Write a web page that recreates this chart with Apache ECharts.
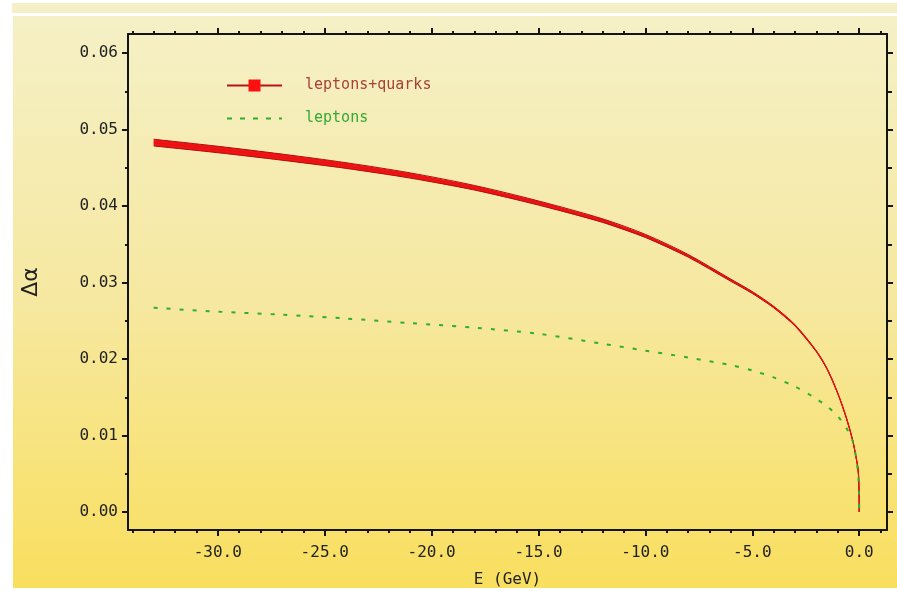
<!DOCTYPE html>
<html>
<head>
<meta charset="utf-8">
<script src="https://cdn.jsdelivr.net/npm/echarts@6/dist/echarts.min.js"></script>
<style>
html,body{margin:0;padding:0;background:#ffffff;}
#chart{width:897px;height:591px;}
</style>
</head>
<body>
<div id="chart"></div>
<script>
// Energies E (GeV), spacelike (negative)
const energies = [-33, -30, -27, -24, -21, -18, -15, -12, -10, -8, -6, -5, -4, -3, -2, -1.5, -1, -0.6, -0.3, -0.15, -0.05, -0.01, 0];
// Δα leptons + quarks (central value)
const leptonsQuarks = [0.0483, 0.0474, 0.0464, 0.0453, 0.0440, 0.0424, 0.0404, 0.0381, 0.0361, 0.0335, 0.0303, 0.0287, 0.0268, 0.0244, 0.0210, 0.0187, 0.0155, 0.0123, 0.0093, 0.0072, 0.0055, 0.0030, 0.0];
// half-width of the leptons + quarks band
const leptonsQuarksErr = [0.00044, 0.00042, 0.00040, 0.00037, 0.00034, 0.00030, 0.00027, 0.00023, 0.00020, 0.00017, 0.00014, 0.00012, 0.00010, 0.00008, 0.00006, 0.00005, 0.00004, 0.00003, 0.00002, 0.00002, 0.00001, 0.0, 0.0];
// Δα leptons only
const leptons = [0.0267, 0.0262, 0.0258, 0.0253, 0.0247, 0.0241, 0.0233, 0.0220, 0.0211, 0.0202, 0.0192, 0.0185, 0.0176, 0.0164, 0.0148, 0.0138, 0.0125, 0.0110, 0.0092, 0.0072, 0.0050, 0.0025, 0.0];

const xTickValues = [-30, -25, -20, -15, -10, -5, 0];
const yTickValues = [0, 0.01, 0.02, 0.03, 0.04, 0.05, 0.06];

const chart = echarts.init(document.getElementById('chart'), null, {renderer: 'canvas'});

const axisColor = '#141414';
const monoFont = "'DejaVu Sans Mono', monospace";

function xAxisCfg(pos, withLabels) {
  return {
    type: 'value', position: pos,
    min: -34.2, max: 1.3, splitNumber: 7,
    axisLine: {show: true, onZero: false, lineStyle: {color: axisColor, width: 2}},
    axisTick: {show: true, customValues: xTickValues, length: 6, inside: false, lineStyle: {color: axisColor, width: 2}},
    minorTick: {show: true, splitNumber: 5, length: 3, lineStyle: {color: axisColor, width: 2}},
    splitLine: {show: false},
    axisLabel: withLabels ? {
      show: true, customValues: xTickValues, margin: 15,
      formatter: v => (Math.abs(v) < 1e-9 ? 0 : v).toFixed(1),
      color: '#222', fontFamily: monoFont, fontSize: 16
    } : {show: false},
    name: withLabels ? 'E (GeV)' : '',
    nameLocation: 'middle', nameGap: 42,
    nameTextStyle: {color: '#222', fontFamily: monoFont, fontSize: 16}
  };
}
function yAxisCfg(pos, withLabels) {
  return {
    type: 'value', position: pos,
    min: -0.00235, max: 0.0625, splitNumber: 6,
    axisLine: {show: true, onZero: false, lineStyle: {color: axisColor, width: 2}},
    axisTick: {show: true, customValues: yTickValues, length: 6, inside: false, lineStyle: {color: axisColor, width: 2}},
    minorTick: {show: true, splitNumber: 2, length: withLabels ? 3 : 5, lineStyle: {color: axisColor, width: 2}},
    splitLine: {show: false},
    axisLabel: withLabels ? {
      show: true, customValues: yTickValues, margin: 10,
      formatter: v => v.toFixed(2),
      color: '#222', fontFamily: monoFont, fontSize: 16
    } : {show: false},
    name: withLabels ? 'Δα' : '',
    nameLocation: 'middle', nameGap: 86,
    nameTextStyle: {color: '#222', fontFamily: "'DejaVu Sans', sans-serif", fontSize: 22}
  };
}

const bandData = energies.map((e, i) => [e, leptonsQuarks[i], leptonsQuarksErr[i]]);
const central = energies.map((e, i) => [e, leptonsQuarks[i]]);
const leptonData = energies.map((e, i) => [e, leptons[i]]);

function renderBand(params, api) {
  if (params.dataIndex !== 0) return null;
  const upper = [], lower = [];
  for (let i = 0; i < energies.length; i++) {
    upper.push(api.coord([energies[i], leptonsQuarks[i] + leptonsQuarksErr[i]]));
    lower.push(api.coord([energies[i], leptonsQuarks[i] - leptonsQuarksErr[i]]));
  }
  return {
    type: 'group',
    children: [
      {type: 'polygon', shape: {points: upper.concat(lower.slice().reverse())},
       style: {fill: '#f01414', stroke: null}},
      {type: 'polyline', shape: {points: upper, smooth: 0.3},
       style: {fill: null, stroke: '#b00d0d', lineWidth: 1}},
      {type: 'polyline', shape: {points: lower, smooth: 0.3},
       style: {fill: null, stroke: '#b00d0d', lineWidth: 1}}
    ]
  };
}

const option = {
  animation: false,
  backgroundColor: 'transparent',
  graphic: [
    {type: 'rect', z: -100, silent: true, shape: {x: 12, y: 3, width: 885, height: 10}, style: {fill: '#f4efc6'}},
    {type: 'rect', z: -100, silent: true, shape: {x: 13, y: 16, width: 884, height: 572},
      style: {fill: new echarts.graphic.LinearGradient(0, 0, 0, 1, [
        {offset: 0, color: '#f5f0c6'},
        {offset: 0.5, color: '#f6e8a0'},
        {offset: 1, color: '#f9df5e'}
      ])}}
  ],
  grid: {left: 128, right: 10, top: 34, bottom: 61, containLabel: false, outerBoundsMode: 'none'},
  xAxis: [xAxisCfg('bottom', true), xAxisCfg('top', false)],
  yAxis: [yAxisCfg('left', true), yAxisCfg('right', false)],
  legend: {
    orient: 'vertical', left: 226, top: 78, padding: 0,
    itemWidth: 55, itemHeight: 15, itemGap: 18,
    selectedMode: false,
    textStyle: {fontFamily: monoFont, fontSize: 15, padding: [0, 0, 0, 18]},
    data: [
      {name: 'leptons+quarks', textStyle: {color: '#a8403a'},
       lineStyle: {color: '#b81414', width: 2, type: 'solid'}, itemStyle: {color: '#ff1010'}},
      {name: 'leptons', textStyle: {color: '#36a836'},
       lineStyle: {color: '#2fae2f', width: 2, type: [5, 8]}, itemStyle: {opacity: 0}}
    ]
  },
  series: [
    {
      name: 'band', type: 'custom', renderItem: renderBand, data: bandData,
      encode: {x: 0, y: 1}, z: 3, silent: true
    },
    {
      name: 'leptons+quarks', type: 'line', data: central,
      symbol: 'rect', showSymbol: false, smooth: 0.3,
      lineStyle: {color: '#e81212', width: 1.2},
      itemStyle: {color: '#ff1010'}, z: 4, silent: true
    },
    {
      name: 'leptons', type: 'line', data: leptonData,
      symbol: 'none', showSymbol: false, smooth: 0.3,
      lineStyle: {color: '#2fae2f', width: 2, type: [4, 9]},
      itemStyle: {color: '#2fae2f'}, z: 5, silent: true
    }
  ]
};
chart.setOption(option);
</script>
</body>
</html>
